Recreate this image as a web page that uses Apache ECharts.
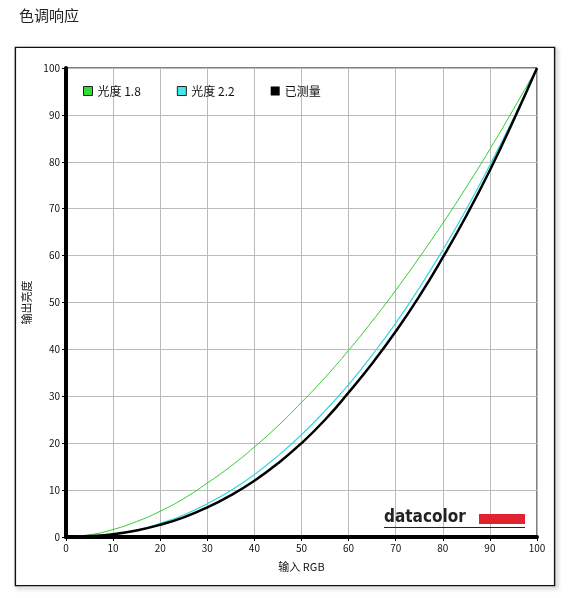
<!DOCTYPE html><html><head><meta charset="utf-8"><script src="https://cdn.jsdelivr.net/npm/echarts@6/dist/echarts.min.js"></script>
<style>html,body{margin:0;padding:0;background:#fff}#c{width:568px;height:598px}</style></head><body><div id="c"></div><script>
const xs=[0,5,10,15,20,25,30,35,40,45,50,55,60,65,70,75,80,85,90,95,100];
const g18=[0,0.45,1.6,3.3,5.5,8.2,11.5,15.1,19.2,23.7,28.7,34,39.8,46,52.6,59.6,66.9,74.6,82.7,91.2,100];
const g22=[0,0.14,0.6,1.5,2.9,4.7,7.1,9.9,13.3,17.3,21.8,26.9,32.5,38.8,45.6,53.1,61.2,69.9,79.3,89.3,100];
const meas=[0,0.2,0.6,1.4,2.6,4.2,6.3,8.9,12,15.7,20,25,30.8,37,43.8,51.3,59.6,68.5,78.2,88.8,100];
const names=['光度 1.8','光度 2.2','已测量'];
const F='"Noto Sans CJK SC"';
const ch=echarts.init(document.getElementById('c'));
const pair=a=>xs.map((x,i)=>[x,a[i]]);
ch.setOption({animation:false,
title:{text:'色调响应',left:14,top:3,textStyle:{fontFamily:F,fontSize:15,fontWeight:'normal',color:'#222'}},
graphic:[
{type:'rect',shape:{x:15.5,y:47.5,width:539,height:538},style:{fill:'none',stroke:'#111',lineWidth:1.5,shadowBlur:4,shadowColor:'rgba(0,0,0,0.4)',shadowOffsetX:2,shadowOffsetY:2},z:-1},
{type:'rect',shape:{x:15.5,y:47.5,width:539,height:538},style:{fill:'#fff',stroke:'#111',lineWidth:1.2},z:-1},
{type:'text',x:384,y:509,style:{text:'datacolor',font:'bold 17px "Liberation Sans Narrow","DejaVu Sans Condensed"',fill:'#222'},z:10},
{type:'rect',shape:{x:479,y:514,width:46,height:10},style:{fill:'#e0232e'},z:10},
{type:'line',shape:{x1:384,y1:527.5,x2:525,y2:527.5},style:{stroke:'#222',lineWidth:1},z:10}
],
legend:{left:78,top:80,itemGap:36,itemWidth:9,itemHeight:9,textStyle:{fontFamily:F,fontSize:12,color:'#111'},
data:[{name:names[0],icon:'rect',itemStyle:{color:'#33dd33',borderColor:'#222',borderWidth:1}},
{name:names[1],icon:'rect',itemStyle:{color:'#44e6ee',borderColor:'#222',borderWidth:1}},
{name:names[2],icon:'rect',itemStyle:{color:'#000'}}]},
grid:{left:66,right:31,top:68,bottom:61,show:true,borderColor:'#000',borderWidth:1},
xAxis:{type:'value',min:0,max:100,interval:10,name:'输入 RGB',nameLocation:'middle',nameGap:24,nameTextStyle:{fontFamily:F,fontSize:11,color:'#111'},
axisLine:{lineStyle:{color:'#000',width:4}},axisTick:{show:true,length:4,lineStyle:{color:'#000'}},axisLabel:{fontFamily:F,fontSize:10,color:'#111',margin:6},splitLine:{lineStyle:{color:'#bbb'}}},
yAxis:{type:'value',min:0,max:100,interval:10,name:'输出亮度',nameLocation:'middle',nameGap:32,nameTextStyle:{fontFamily:F,fontSize:11,color:'#111'},
axisLine:{show:true,lineStyle:{color:'#000',width:4}},axisTick:{show:true,length:4,lineStyle:{color:'#000'}},axisLabel:{fontFamily:F,fontSize:10,color:'#111',margin:6},splitLine:{lineStyle:{color:'#bbb'}}},
series:[
{name:names[0],type:'line',data:pair(g18),smooth:true,symbol:'none',lineStyle:{color:'#33cc33',width:1},itemStyle:{color:'#33dd33'}},
{name:names[1],type:'line',data:pair(g22),smooth:true,symbol:'none',lineStyle:{color:'#33d6e0',width:1.2},itemStyle:{color:'#44e6ee'}},
{name:names[2],type:'line',data:pair(meas),smooth:true,symbol:'none',lineStyle:{color:'#000',width:2.5},itemStyle:{color:'#000'}}
]});
</script></body></html>
